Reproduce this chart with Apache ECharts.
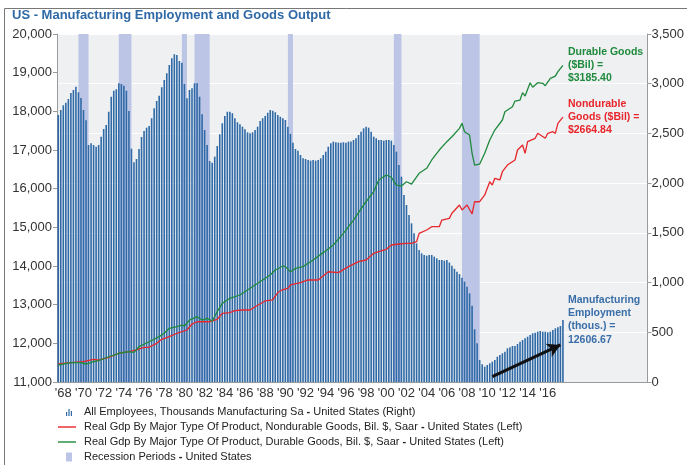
<!DOCTYPE html>
<html>
<head>
<meta charset="utf-8">
<script src="https://cdn.jsdelivr.net/npm/echarts@6/dist/echarts.min.js"></script>
<style>
  html, body { margin: 0; padding: 0; background: #fff; }
  #chart { width: 687px; height: 465px; }
</style>
</head>
<body>
<div id="chart"></div>
<script>
const chart = echarts.init(document.getElementById('chart'));
const FONT = '"Liberation Sans", Arial, sans-serif';

// quarterly categories from 1967Q4; axis runs on past the data to leave room for the end labels
const quarters = [];
for (let k = 0; k < 234; k++) {
  const t = 1967 * 4 + 3 + k;
  quarters.push(Math.floor(t / 4) + 'Q' + ((t % 4) + 1));
}

// manufacturing employment, thousands, quarterly 1967Q4 .. 2017Q4 (left axis)
const employment = [
  17905, 18035, 18156, 18224, 18319, 18474, 18552, 18638, 18492, 18345,
  18035, 17767, 17130, 17174, 17130, 17086, 17130, 17345, 17543, 17647,
  17991, 18379, 18534, 18569, 18725, 18707, 18664, 18534, 18009, 17034,
  16682, 16767, 17026, 17336, 17491, 17577, 17621, 17820, 18078, 18267,
  18405, 18621, 18810, 18983, 19198, 19371, 19474, 19457, 19302, 19258,
  18707, 18336, 18552, 18595, 18725, 18725, 18379, 17923, 17517, 17130,
  16716, 16672, 16828, 17104, 17406, 17690, 17880, 17991, 17991, 17949,
  17820, 17716, 17664, 17603, 17535, 17457, 17432, 17457, 17517, 17603,
  17750, 17820, 17880, 17965, 18035, 18017, 17975, 17905, 17862, 17820,
  17776, 17603, 17414, 17190, 17026, 16983, 16871, 16785, 16767, 16742,
  16724, 16742, 16724, 16742, 16785, 16871, 16957, 17086, 17174, 17217,
  17200, 17190, 17190, 17200, 17190, 17217, 17217, 17259, 17303, 17388,
  17474, 17560, 17603, 17577, 17474, 17345, 17303, 17259, 17259, 17241,
  17259, 17259, 17241, 17130, 16957, 16612, 16310, 15836, 15578, 15319,
  15104, 14845, 14586, 14414, 14328, 14285, 14267, 14285, 14285, 14241,
  14198, 14155, 14155, 14138, 14155, 14090, 14005, 13928, 13853, 13790,
  13695, 13595, 13465, 13294, 12973, 12363, 12001, 11569, 11458, 11396,
  11440, 11484, 11525, 11569, 11654, 11698, 11742, 11784, 11871, 11897,
  11931, 11931, 11983, 12042, 12086, 12130, 12171, 12215, 12259, 12275,
  12301, 12319, 12301, 12301, 12285, 12301, 12345, 12389, 12415, 12448,
  12606.67
];

// real GDP, durable goods, bil. $ (right axis)
const durableDates = [
  '1967Q4', '1969Q1', '1970Q1', '1970Q3', '1971Q2', '1971Q4', '1972Q4', '1973Q4', '1974Q4', '1975Q2',
  '1975Q4', '1976Q4', '1977Q4', '1978Q2', '1978Q4', '1979Q3', '1980Q1', '1980Q2', '1980Q4', '1981Q3',
  '1982Q1', '1982Q3', '1983Q1', '1983Q3', '1984Q1', '1984Q4', '1985Q4', '1986Q3', '1987Q2', '1988Q1',
  '1988Q4', '1989Q2', '1990Q1', '1990Q2', '1990Q4', '1991Q2', '1992Q1', '1993Q1', '1994Q1', '1995Q1',
  '1996Q1', '1997Q1', '1998Q1', '1999Q1', '1999Q3', '2000Q2', '2000Q4', '2001Q2', '2001Q4', '2002Q2',
  '2002Q4', '2003Q3', '2004Q2', '2004Q4', '2005Q3', '2006Q2', '2006Q4', '2007Q3', '2007Q4', '2008Q1',
  '2008Q3', '2008Q4', '2009Q1', '2009Q3', '2010Q1', '2010Q3', '2011Q1', '2011Q4', '2012Q1', '2012Q4',
  '2013Q1', '2013Q3', '2013Q4', '2014Q1', '2014Q3', '2014Q4', '2015Q2', '2015Q4', '2016Q1', '2016Q3',
  '2017Q1', '2017Q2', '2017Q4'
];
const durableValues = [
  171, 194, 194, 181, 204, 214, 254, 289, 305, 298,
  355, 405, 456, 490, 540, 556, 573, 563, 623, 657,
  623, 640, 613, 707, 791, 842, 875, 925, 976, 1026,
  1076, 1126, 1167, 1160, 1109, 1143, 1160, 1227, 1301, 1378,
  1495, 1629, 1780, 1914, 2032, 2082, 2059, 1981, 1971, 2014,
  1991, 2099, 2149, 2233, 2333, 2417, 2467, 2551, 2602, 2517,
  2484, 2300, 2182, 2192, 2300, 2434, 2534, 2635, 2718, 2769,
  2826, 2836, 2910, 2876, 3010, 2964, 3010, 3004, 2980, 3054,
  3077, 3121, 3185.40
];

// real GDP, nondurable goods, bil. $ (right axis)
const nondurableDates = [
  '1967Q4', '1969Q1', '1970Q2', '1971Q2', '1971Q4', '1972Q4', '1973Q4', '1974Q4', '1975Q3', '1976Q2',
  '1976Q4', '1977Q3', '1978Q1', '1978Q4', '1979Q3', '1980Q3', '1981Q1', '1981Q3', '1982Q1', '1982Q4',
  '1983Q3', '1984Q1', '1984Q4', '1985Q2', '1986Q1', '1986Q4', '1987Q2', '1988Q2', '1989Q1', '1989Q3',
  '1990Q1', '1990Q3', '1990Q4', '1991Q4', '1992Q3', '1993Q3', '1994Q3', '1995Q3', '1996Q3', '1997Q3',
  '1998Q2', '1999Q1', '1999Q3', '2000Q2', '2000Q4', '2001Q3', '2002Q2', '2002Q4', '2003Q2', '2003Q3',
  '2004Q2', '2004Q4', '2005Q3', '2005Q4', '2006Q3', '2006Q4', '2007Q3', '2007Q4', '2008Q2', '2008Q4',
  '2009Q1', '2009Q3', '2010Q1', '2010Q3', '2010Q4', '2011Q1', '2011Q3', '2011Q4', '2012Q2', '2013Q1',
  '2013Q2', '2013Q4', '2014Q1', '2014Q2', '2015Q1', '2015Q2', '2016Q1', '2016Q2', '2016Q4', '2017Q1',
  '2017Q2', '2017Q4'
];
const nondurableValues = [
  181, 194, 204, 228, 221, 248, 289, 305, 322, 349,
  349, 389, 429, 456, 490, 523, 583, 606, 606, 606,
  631, 691, 697, 717, 724, 724, 757, 815, 825, 900,
  930, 942, 976, 999, 1026, 1026, 1109, 1100, 1160, 1210,
  1227, 1294, 1311, 1335, 1378, 1388, 1395, 1395, 1411, 1495,
  1529, 1562, 1562, 1629, 1646, 1697, 1780, 1730, 1780, 1690,
  1813, 1813, 1881, 2014, 1981, 2049, 2032, 2115, 2182, 2233,
  2333, 2384, 2300, 2417, 2451, 2501, 2451, 2501, 2517, 2501,
  2602, 2664.84
];

// recession periods (first and last quarter)
const recessions = [
  ['1969Q4', '1970Q4'],
  ['1973Q4', '1975Q1'],
  ['1980Q1', '1980Q3'],
  ['1981Q2', '1982Q4'],
  ['1990Q3', '1991Q1'],
  ['2001Q1', '2001Q4'],
  ['2007Q4', '2009Q3']
];

// trend arrow drawn over the recovery
const arrowFrom = ['2010Q4', 11140];
const arrowTo = ['2017Q3', 11960];

const empName = 'All Employees, Thousands Manufacturing Sa - United States (Right)';
const ndName = 'Real Gdp By Major Type Of Product, Nondurable Goods, Bil. $, Saar - United States (Left)';
const dName = 'Real Gdp By Major Type Of Product, Durable Goods, Bil. $, Saar - United States (Left)';
const recName = 'Recession Periods - United States';

const BLUE = '#2f6aa7';
const RED = '#e8262b';
const GREEN = '#1f8a3c';
const REC = '#bcc5e6';

const lastEmp = employment[employment.length - 1];
const lastDur = durableValues[durableValues.length - 1];
const lastNd = nondurableValues[nondurableValues.length - 1];
const lastIdx = employment.length - 1;

const noteStyle = {
  fontFamily: FONT,
  fontWeight: 'bold',
  fontSize: 10.5,
  lineHeight: 13.3
};

const axisGrey = '#9a9a9a';

const option = {
  animation: false,
  textStyle: { fontFamily: FONT },
  title: {
    text: 'US - Manufacturing Employment and Goods Output',
    left: 12,
    top: 9,
    padding: 0,
    textStyle: { fontFamily: FONT, fontSize: 13, fontWeight: 'bold', color: '#2f69a6' }
  },
  graphic: [{
    type: 'rect',
    silent: true,
    shape: { x: 4.5, y: 8.5, width: 800, height: 600 },
    style: { fill: 'none', stroke: '#777', lineWidth: 1 }
  }],
  legend: {
    orient: 'vertical',
    left: 58,
    top: 406,
    padding: 0,
    itemWidth: 18,
    itemHeight: 12,
    itemGap: 3,
    selectedMode: false,
    textStyle: {
      fontFamily: FONT,
      fontSize: 11,
      color: '#222',
      padding: [0, 0, 0, 3],
      rich: { b: { fontFamily: FONT, fontSize: 11, fontWeight: 'bold', color: '#222' } }
    },
    formatter: (name) => {
      const p = name.split(' - ');
      return p[0] + ' {b|-} ' + p[1];
    },
    data: [
      { name: empName, icon: 'path://M0,0M18,12M8,10V6H9.2V10ZM10.4,10V3H11.6V10ZM12.8,10V5H14V10Z' },
      { name: ndName, icon: 'path://M0,0M18,12M0,5.3H18V6.7H0Z' },
      { name: dName, icon: 'path://M0,0M18,12M0,5.3H18V6.7H0Z' },
      { name: recName, icon: 'path://M0,0M18,12M8,1.5H14V10.5H8Z' }
    ]
  },
  grid: {
    left: 57,
    right: 38,
    top: 34,
    bottom: 83,
    show: true,
    backgroundColor: '#eef0f2',
    borderWidth: 0
  },
  xAxis: {
    type: 'category',
    data: quarters,
    boundaryGap: true,
    axisLine: { lineStyle: { color: axisGrey } },
    axisTick: {
      // yearly ticks at year boundaries, only over the data span
      interval: (i) => i % 4 === 1 && i <= lastIdx + 1,
      length: 4,
      lineStyle: { color: axisGrey }
    },
    axisLabel: {
      // every second year, centred mid-year
      interval: (i) => i % 8 === 2 && i <= lastIdx,
      formatter: (v) => "'" + v.slice(2, 4),
      fontFamily: FONT,
      fontSize: 13,
      color: '#333',
      margin: 5
    },
    splitLine: { show: false }
  },
  yAxis: [
    {
      type: 'value',
      position: 'left',
      min: 11000,
      max: 20000,
      interval: 1000,
      axisLine: { show: true, lineStyle: { color: axisGrey } },
      axisTick: { show: true, length: 4, lineStyle: { color: axisGrey } },
      axisLabel: {
        fontFamily: FONT,
        fontSize: 13,
        color: '#333',
        margin: 5,
        formatter: (v) => v.toLocaleString('en-US')
      },
      splitLine: { show: false }
    },
    {
      type: 'value',
      position: 'right',
      min: 0,
      max: 3500,
      interval: 500,
      axisLine: { show: true, lineStyle: { color: axisGrey } },
      axisTick: { show: true, length: 4, lineStyle: { color: axisGrey } },
      axisLabel: {
        fontFamily: FONT,
        fontSize: 13,
        color: '#333',
        margin: 4,
        formatter: (v) => v.toLocaleString('en-US')
      },
      splitLine: { show: true, lineStyle: { color: '#ffffff', width: 1 } }
    }
  ],
  series: [
    {
      name: recName,
      type: 'line',
      data: [],
      itemStyle: { color: REC },
      lineStyle: { color: REC },
      z: 1,
      markArea: {
        silent: true,
        itemStyle: { color: REC },
        data: recessions.map((r) => [{ xAxis: r[0] }, { xAxis: r[1] }])
      }
    },
    {
      name: empName,
      type: 'bar',
      yAxisIndex: 0,
      data: employment,
      barWidth: 1.6,
      itemStyle: { color: BLUE },
      z: 2,
      markPoint: {
        silent: true,
        symbol: 'circle',
        symbolSize: 0,
        label: Object.assign({
          show: true,
          position: 'right',
          distance: 5,
          color: '#3a6ea8',
          formatter: 'Manufacturing\nEmployment\n(thous.) =\n' + lastEmp.toFixed(2)
        }, noteStyle),
        data: [{ coord: [quarters[lastIdx], lastEmp] }]
      },
      markLine: {
        silent: true,
        symbol: ['none', 'arrow'],
        symbolSize: [11, 13],
        lineStyle: { color: '#111', width: 3, type: 'solid' },
        label: { show: false },
        data: [[{ coord: arrowFrom }, { coord: arrowTo }]]
      }
    },
    {
      name: ndName,
      type: 'line',
      yAxisIndex: 1,
      data: nondurableDates.map((d, i) => [d, nondurableValues[i]]),
      symbol: 'none',
      lineStyle: { color: RED, width: 1.3 },
      itemStyle: { color: RED },
      z: 3,
      endLabel: Object.assign({
        show: true,
        distance: 5,
        color: RED,
        formatter: 'Nondurable\nGoods ($Bil) =\n$' + lastNd.toFixed(2)
      }, noteStyle)
    },
    {
      name: dName,
      type: 'line',
      yAxisIndex: 1,
      data: durableDates.map((d, i) => [d, durableValues[i]]),
      symbol: 'none',
      lineStyle: { color: GREEN, width: 1.3 },
      itemStyle: { color: GREEN },
      z: 3,
      endLabel: Object.assign({
        show: true,
        distance: 5,
        color: GREEN,
        formatter: 'Durable Goods\n($Bil) =\n$' + lastDur.toFixed(2)
      }, noteStyle)
    }
  ]
};

chart.setOption(option);
</script>
</body>
</html>
